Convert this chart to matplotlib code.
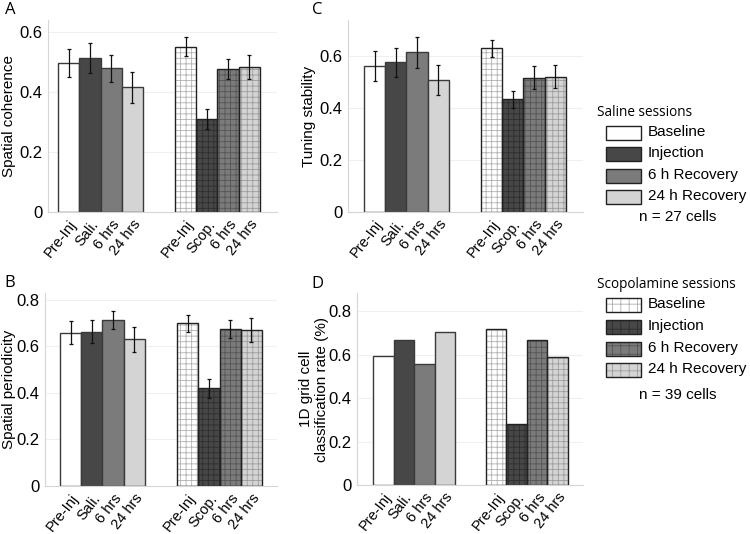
import numpy as np
import matplotlib
matplotlib.use("Agg")
import matplotlib.pyplot as plt
from matplotlib.patches import Rectangle

plt.rcParams['font.family'] = ['Liberation Sans', 'DejaVu Sans']
plt.rcParams['hatch.linewidth'] = 0.6

# conditions / labels
conds = ['Baseline', 'Injection', '6 h Recovery', '24 h Recovery']
sal_ticks = ['Pre-Inj', 'Sali.', '6 hrs', '24 hrs']
scop_ticks = ['Pre-Inj', 'Scop.', '6 hrs', '24 hrs']
fills = ['white', '#474747', '#7b7b7b', '#d4d4d4']
hatch_cols = ['#b0b0b0', '#2e2e2e', '#555555', '#9c9c9c']

# A: spatial coherence
coh_sal = [0.497, 0.514, 0.479, 0.416]
coh_sal_err = [0.046, 0.050, 0.044, 0.052]
coh_scop = [0.551, 0.310, 0.476, 0.482]
coh_scop_err = [0.032, 0.033, 0.033, 0.040]

# B: spatial periodicity
per_sal = [0.660, 0.663, 0.714, 0.631]
per_sal_err = [0.049, 0.049, 0.040, 0.054]
per_scop = [0.700, 0.420, 0.674, 0.671]
per_scop_err = [0.036, 0.041, 0.039, 0.050]

# C: tuning stability
stab_sal = [0.563, 0.577, 0.615, 0.510]
stab_sal_err = [0.058, 0.056, 0.060, 0.058]
stab_scop = [0.631, 0.434, 0.518, 0.521]
stab_scop_err = [0.033, 0.034, 0.045, 0.045]

# D: 1D grid cell classification rate
rate_sal = [0.593, 0.667, 0.556, 0.704]
rate_scop = [0.718, 0.282, 0.667, 0.590]

n_sal = 27
n_scop = 39

W, H = 750, 534


def rect(l, r, t, b):
    return [l / W, 1 - b / H, (r - l) / W, (b - t) / H]


def panel(box, sal, scop, sal_err, scop_err, ymax, yticks, ylabel, xlim, label_x):
    ax = fig.add_axes(rect(*box))
    xs = np.arange(4)
    xc = np.arange(4) + 5.5
    ax.bar(xs, sal, width=1, color=fills, edgecolor='#3a3a3a', linewidth=1, zorder=2)
    ax.bar(xc, scop, width=1, color=fills, edgecolor=hatch_cols, hatch='+++',
           linewidth=0, zorder=2)
    ax.bar(xc, scop, width=1, fill=False, edgecolor='#222222', linewidth=1, zorder=3)
    if sal_err is not None:
        ax.errorbar(xs, sal, yerr=sal_err, fmt='none', ecolor='#111111',
                    elinewidth=0.9, capsize=1.5, capthick=0.9, zorder=4)
        ax.errorbar(xc, scop, yerr=scop_err, fmt='none', ecolor='#111111',
                    elinewidth=0.9, capsize=1.5, capthick=0.9, zorder=4)
    ax.set_xlim(*xlim)
    ax.set_ylim(0, ymax)
    ax.set_yticks(yticks)
    ax.set_yticklabels([f'{t:g}' for t in yticks], fontsize=12)
    ax.set_xticks(list(xs) + list(xc))
    ax.set_xticklabels(sal_ticks + scop_ticks, fontsize=10.5, rotation=52,
                       ha='right', va='top', rotation_mode='anchor')
    ax.tick_params(length=0, pad=4)
    ax.tick_params(axis='x', pad=4)
    for s in ['top', 'right']:
        ax.spines[s].set_visible(False)
    for s in ['left', 'bottom']:
        ax.spines[s].set_color('#d6d6d6')
        ax.spines[s].set_linewidth(0.8)
    ax.yaxis.grid(True, color='#f0f0f0', linewidth=0.8, zorder=0)
    ax.set_axisbelow(True)
    ax.set_ylabel(ylabel, fontsize=11)
    l, r = box[0], box[1]
    ax.yaxis.set_label_coords((label_x - l) / (r - l), 0.5)
    return ax


fig = plt.figure(figsize=(7.5, 5.34), dpi=100)

panel((48, 277, 20, 212), coh_sal, coh_scop, coh_sal_err, coh_scop_err,
      0.64, [0, 0.2, 0.4, 0.6], 'Spatial coherence', (-0.97, 9.8), 16)
panel((348, 583, 20, 212), stab_sal, stab_scop, stab_sal_err, stab_scop_err,
      0.74, [0, 0.2, 0.4, 0.6], 'Tuning stability', (-1.25, 9.8), 316)
panel((45, 277, 293, 486), per_sal, per_scop, per_sal_err, per_scop_err,
      0.83, [0, 0.2, 0.4, 0.6, 0.8], 'Spatial periodicity', (-1.2, 9.7), 16)
panel((357, 583, 293, 485), rate_sal, rate_scop, None, None,
      0.885, [0, 0.2, 0.4, 0.6, 0.8], '1D grid cell\nclassification rate (%)',
      (-1.28, 9.74), 329)

# overlay in pixel coordinates for letters and legends
ov = fig.add_axes([0, 0, 1, 1])
ov.set_xlim(0, W)
ov.set_ylim(H, 0)
ov.axis('off')
ov.patch.set_alpha(0)

title_font = ['Open Sans', 'DejaVu Sans']
for letter, (x, y) in zip('ACBD', [(10, 10), (317, 10), (10, 283), (317, 284)]):
    ov.text(x, y, letter, fontsize=12, family=title_font, ha='center', va='center')


def legend(title, ty, rows_y, n, ny, hatched):
    ov.text(597, ty, title, fontsize=9.8, family=title_font, ha='left', va='center')
    for c, fc, hc, y in zip(conds, fills, hatch_cols, rows_y):
        if hatched:
            ov.add_patch(Rectangle((606, y - 7), 35, 14, facecolor=fc, edgecolor=hc,
                                   hatch='++', linewidth=0))
            ov.add_patch(Rectangle((606, y - 7), 35, 14, fill=False,
                                   edgecolor='#222222', linewidth=1))
        else:
            ov.add_patch(Rectangle((606, y - 7), 35, 14, facecolor=fc,
                                   edgecolor='#222222', linewidth=1))
        ov.text(648, y - 1, c, fontsize=11, ha='left', va='center')
    ov.text(678, ny, f'n = {n} cells', fontsize=11, ha='center', va='center')


legend('Saline sessions', 113, [133, 154, 176, 197], n_sal, 217, False)
legend('Scopolamine sessions', 285, [305, 327, 349, 370], n_scop, 395, True)

fig.savefig('out.png', dpi=100)
